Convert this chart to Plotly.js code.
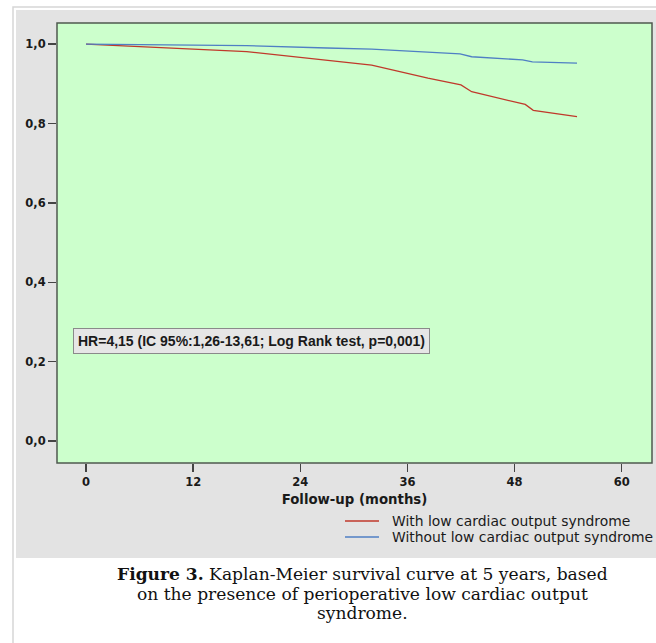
<!DOCTYPE html>
<html><head><meta charset="utf-8">
<script src="https://cdn.plot.ly/plotly-3.0.1.min.js"></script>
<style>html,body{margin:0;padding:0;background:#fff}#chart{width:656px;height:643px}</style>
</head><body><div id="chart"></div>
<script>
// Data
const seriesNames = ["With low cardiac output syndrome", "Without low cardiac output syndrome"];
const seriesColors = ["#c0392b", "#4f7fc4"];
const redMonths = [0, 18, 32, 38.3, 42, 43.2, 49.2, 50.1, 55];
const redSurv   = [1.0, 0.981, 0.947, 0.914, 0.897, 0.880, 0.848, 0.833, 0.817];
const blueMonths = [0, 18, 27, 32, 41.9, 43.2, 48.9, 50, 55];
const blueSurv   = [1.0, 0.996, 0.990, 0.987, 0.975, 0.968, 0.960, 0.955, 0.952];
const xTickVals = [0, 12, 24, 36, 48, 60];
const yTickVals = [0, 0.2, 0.4, 0.6, 0.8, 1.0];
const yTickText = ["0,0", "0,2", "0,4", "0,6", "0,8", "1,0"];
const xTitle = "Follow-up (months)";
const statText = "HR=4,15 (IC 95%:1,26-13,61; Log Rank test, p=0,001)";
const captionLines = ["<b>Figure 3.</b> Kaplan-Meier survival curve at 5 years, based",
                      "on the presence of perioperative low cardiac output",
                      "syndrome."];

const W = 656, H = 643, L = 57, R = 4, T = 23, B = 180;
const pw = W - L - R, ph = H - T - B;
const px = v => (v - L) / pw;
const py = v => (H - B - v) / ph;

const traces = [
  {x: redMonths, y: redSurv, name: seriesNames[0], type: "scatter", mode: "lines",
   line: {color: seriesColors[0], width: 1.3}},
  {x: blueMonths, y: blueSurv, name: seriesNames[1], type: "scatter", mode: "lines",
   line: {color: seriesColors[1], width: 1.3}}
];

const tickFont = {family: "DejaVu Sans", size: 11.5, color: "#1a1a1a", weight: "bold"};

const shapes = [
  {type: "rect", xref: "paper", yref: "paper", x0: px(13), x1: px(700), y0: py(700), y1: py(7),
   fillcolor: "#ffffff", line: {color: "#d6d6d6", width: 1.5}, layer: "below"},
  {type: "rect", xref: "paper", yref: "paper", x0: px(16), x1: px(660), y0: py(558), y1: py(10),
   fillcolor: "#e3e3e3", line: {width: 0}, layer: "below"},
  {type: "rect", xref: "paper", yref: "paper", x0: 0, x1: 1, y0: 0, y1: 1,
   fillcolor: "#ccffcc", line: {color: "#4f5a4f", width: 1.5}, layer: "below"}
];
const annotations = [
  {xref: "paper", yref: "paper", x: px(73), y: py(340.5), xanchor: "left", yanchor: "middle",
   text: statText, showarrow: false, align: "left",
   font: {family: "Liberation Sans", size: 14, color: "#1a1a1a", weight: "bold"},
   bgcolor: "#e6e6e6", bordercolor: "#8a8a8a", borderwidth: 1, borderpad: 4}
];
// legend drawn manually for spacing control
const legendY = [521, 537];
seriesNames.forEach((n, i) => {
  shapes.push({type: "line", xref: "paper", yref: "paper", x0: px(345), x1: px(379),
    y0: py(legendY[i]), y1: py(legendY[i]), line: {color: seriesColors[i], width: 1.5}});
  annotations.push({xref: "paper", yref: "paper", x: px(390), y: py(legendY[i]),
    xanchor: "left", yanchor: "middle", text: n, showarrow: false,
    font: {family: "DejaVu Sans", size: 13.9, color: "#1a1a1a"}});
});
const capY = [574, 594, 613];
captionLines.forEach((t, i) => {
  annotations.push({xref: "paper", yref: "paper", x: px(362), y: py(capY[i]),
    xanchor: "center", yanchor: "middle", text: t, showarrow: false,
    font: {family: "DejaVu Serif", size: 17.1, color: "#111"}});
});

const layout = {
  width: W, height: H,
  margin: {l: L, r: R, t: T, b: B, pad: 0},
  paper_bgcolor: "rgba(0,0,0,0)",
  plot_bgcolor: "rgba(0,0,0,0)",
  showlegend: false,
  xaxis: {range: [-3.25, 63.4], tickvals: xTickVals, ticks: "outside", ticklen: 8,
    tickcolor: "#444", tickwidth: 1.5, showgrid: false, zeroline: false,
    showline: false, tickfont: tickFont, fixedrange: true,
    title: {text: xTitle, font: {family: "DejaVu Sans", size: 13.3, color: "#1a1a1a", weight: "bold"}, standoff: 6}},
  yaxis: {range: [-0.055, 1.053], tickvals: yTickVals, ticktext: yTickText, ticks: "outside",
    ticklen: 8, tickcolor: "#444", tickwidth: 1.5, showgrid: false, zeroline: false,
    showline: false, tickfont: tickFont, fixedrange: true},
  shapes: shapes,
  annotations: annotations
};

Plotly.newPlot("chart", traces, layout, {displayModeBar: false, staticPlot: true});
</script>
</body></html>
